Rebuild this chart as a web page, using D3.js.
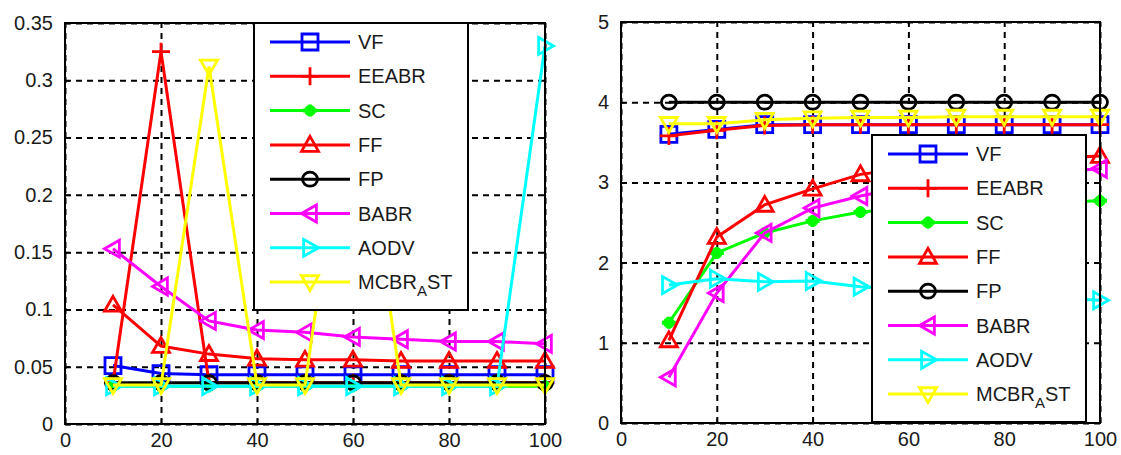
<!DOCTYPE html>
<html lang="en">
<head>
<meta charset="utf-8">
<title>Two panels</title>
<script src="https://d3js.org/d3.v7.min.js"></script>
<style>
  body { margin: 0; background: #fff; }
  text { font-family: "Liberation Sans", Arial, sans-serif; fill: #1a1a1a; }
</style>
</head>
<body>
<script>
// x values shared by both panels
var xVals = [10, 20, 30, 40, 50, 60, 70, 80, 90, 100];
var xTicks = [0, 20, 40, 60, 80, 100];

var seriesNames = ["VF", "EEABR", "SC", "FF", "FP", "BABR", "AODV", "MCBR_AST"];
var seriesColors = ["#0000ff", "#ff0000", "#00ff00", "#ff0000", "#000000", "#ff00ff", "#00ffff", "#ffff00"];
var seriesMarkers = ["square", "plus", "star", "triUp", "circle", "triLeft", "triRight", "triDown"];

// left panel values
var leftVF    = [0.051, 0.044, 0.043, 0.043, 0.043, 0.043, 0.043, 0.043, 0.043, 0.043];
var leftEEABR = [0.036, 0.325, 0.036, 0.036, 0.036, 0.036, 0.036, 0.036, 0.036, 0.036];
var leftSC    = [0.033, 0.033, 0.033, 0.033, 0.033, 0.033, 0.033, 0.033, 0.033, 0.033];
var leftFF    = [0.104, 0.068, 0.061, 0.057, 0.056, 0.056, 0.055, 0.055, 0.055, 0.055];
var leftFP    = [0.036, 0.036, 0.036, 0.036, 0.036, 0.036, 0.036, 0.036, 0.036, 0.036];
var leftBABR  = [0.153, 0.120, 0.090, 0.082, 0.080, 0.076, 0.074, 0.072, 0.072, 0.070];
var leftAODV  = [0.033, 0.033, 0.033, 0.033, 0.033, 0.033, 0.033, 0.033, 0.033, 0.330];
var leftMCBR  = [0.034, 0.034, 0.312, 0.034, 0.034, 0.325, 0.034, 0.034, 0.034, 0.034];
var leftYTicks = [0, 0.05, 0.1, 0.15, 0.2, 0.25, 0.3, 0.35];

// right panel values
var rightVF    = [3.60, 3.66, 3.72, 3.72, 3.72, 3.72, 3.72, 3.72, 3.72, 3.72];
var rightEEABR = [3.58, 3.65, 3.71, 3.72, 3.72, 3.72, 3.72, 3.72, 3.72, 3.72];
var rightSC    = [1.25, 2.12, 2.37, 2.52, 2.63, 2.68, 2.71, 2.73, 2.75, 2.77];
var rightFF    = [1.03, 2.32, 2.72, 2.92, 3.10, 3.18, 3.23, 3.27, 3.30, 3.33];
var rightFP    = [4.00, 4.00, 4.00, 4.00, 4.00, 4.00, 4.00, 4.00, 4.00, 4.00];
var rightBABR  = [0.57, 1.62, 2.37, 2.68, 2.83, 2.95, 3.03, 3.09, 3.13, 3.17];
var rightAODV  = [1.72, 1.80, 1.76, 1.77, 1.70, 1.66, 1.62, 1.59, 1.56, 1.53];
var rightMCBR  = [3.73, 3.73, 3.78, 3.80, 3.81, 3.81, 3.82, 3.82, 3.82, 3.82];
var rightYTicks = [0, 1, 2, 3, 4, 5];

var svg = d3.select("body").append("svg")
  .attr("width", 1121)
  .attr("height", 455);

// marker shapes, all hollow except the star
function markerPath(kind) {
  var s = 8.5;
  switch (kind) {
    case "square": return "M-8,-8H8V8H-8Z";
    case "plus": return "M-9,0H9M0,-9V9";
    case "star": return "M-7,0H7M0,-6V6M-4,-4L4,4M-4,4L4,-4";
    case "circle": return "M-7.5,0A7.5,7 0 1,0 7.5,0A7.5,7 0 1,0 -7.5,0Z";
    case "triUp": return "M0,-" + s + "L" + s + "," + (s * 0.75) + "L-" + s + "," + (s * 0.75) + "Z";
    case "triDown": return "M0," + s + "L" + s + ",-" + (s * 0.75) + "L-" + s + ",-" + (s * 0.75) + "Z";
    case "triLeft": return "M-" + s + ",0L" + (s * 0.75) + ",-" + s + "L" + (s * 0.75) + "," + s + "Z";
    case "triRight": return "M" + s + ",0L-" + (s * 0.75) + ",-" + s + "L-" + (s * 0.75) + "," + s + "Z";
  }
}

function drawMarker(g, kind, color, x, y) {
  g.append("path")
    .attr("d", markerPath(kind))
    .attr("transform", "translate(" + x + "," + y + ")")
    .attr("fill", "none")
    .attr("stroke", color)
    .attr("stroke-width", kind == "star" ? 4 : 2.8);
}

function drawPanel(opts) {
  var x = d3.scaleLinear().domain([0, 100]).range([opts.left, opts.right]);
  var y = d3.scaleLinear().domain(opts.yDomain).range([opts.bottom, opts.top]);
  var g = svg.append("g");

  // dashed grid
  g.append("g")
    .attr("transform", "translate(0," + opts.bottom + ")")
    .call(d3.axisBottom(x).tickValues(xTicks).tickSize(-(opts.bottom - opts.top)).tickFormat(""))
    .call(a => a.select(".domain").remove())
    .selectAll("line")
    .attr("stroke", "#000").attr("stroke-width", 2).attr("stroke-dasharray", "6,5");
  g.append("g")
    .attr("transform", "translate(" + opts.left + ",0)")
    .call(d3.axisLeft(y).tickValues(opts.yTicks).tickSize(-(opts.right - opts.left)).tickFormat(""))
    .call(a => a.select(".domain").remove())
    .selectAll("line")
    .attr("stroke", "#000").attr("stroke-width", 2).attr("stroke-dasharray", "6,5");

  // tick labels
  var xAxis = g.append("g")
    .attr("transform", "translate(0," + opts.bottom + ")")
    .call(d3.axisBottom(x).tickValues(xTicks).tickSize(-5).tickPadding(9));
  var yAxis = g.append("g")
    .attr("transform", "translate(" + opts.left + ",0)")
    .call(d3.axisLeft(y).tickValues(opts.yTicks).tickSize(-5).tickPadding(12).tickFormat(opts.yFormat));
  [xAxis, yAxis].forEach(function (a) {
    a.select(".domain").remove();
    a.selectAll("line").attr("stroke", "#000").attr("stroke-width", 1.5);
    a.selectAll("text").attr("font-size", 20).attr("font-family", "Liberation Sans, Arial, sans-serif").attr("fill", "#1a1a1a");
  });

  // series
  var line = d3.line().x((d, i) => x(xVals[i])).y(d => y(d));
  opts.series.forEach(function (vals, k) {
    g.append("path")
      .datum(vals)
      .attr("d", line)
      .attr("fill", "none")
      .attr("stroke", seriesColors[k])
      .attr("stroke-width", 3);
    vals.forEach(function (v, i) {
      drawMarker(g, seriesMarkers[k], seriesColors[k], x(xVals[i]), y(v));
    });
  });

  // axes box
  g.append("rect")
    .attr("x", opts.left).attr("y", opts.top)
    .attr("width", opts.right - opts.left).attr("height", opts.bottom - opts.top)
    .attr("fill", "none").attr("stroke", "#000").attr("stroke-width", 2);

  // legend
  var lg = g.append("g");
  lg.append("rect")
    .attr("x", opts.legend.x).attr("y", opts.legend.y)
    .attr("width", 214).attr("height", 287)
    .attr("fill", "#fff").attr("stroke", "#000").attr("stroke-width", 2);
  seriesNames.forEach(function (name, k) {
    var ly = opts.legend.y + 19 + k * 34.3;
    var lx = opts.legend.x + 16;
    lg.append("line")
      .attr("x1", lx).attr("x2", lx + 80)
      .attr("y1", ly).attr("y2", ly)
      .attr("stroke", seriesColors[k]).attr("stroke-width", 3);
    drawMarker(lg, seriesMarkers[k], seriesColors[k], lx + 40, ly);
    var t = lg.append("text")
      .attr("x", lx + 88).attr("y", ly + 7)
      .attr("font-size", 20);
    if (name == "MCBR_AST") {
      t.append("tspan").text("MCBR");
      t.append("tspan").attr("dy", 7).attr("font-size", 15).text("A");
      t.append("tspan").attr("dy", -7).text("ST");
    } else {
      t.text(name);
    }
  });
}

drawPanel({
  left: 65, right: 545, top: 23, bottom: 424,
  yDomain: [0, 0.35], yTicks: leftYTicks,
  yFormat: d => d == 0 ? "0" : d3.format("")(+d.toFixed(2)),
  series: [leftVF, leftEEABR, leftSC, leftFF, leftFP, leftBABR, leftAODV, leftMCBR],
  legend: { x: 254, y: 23 }
});

drawPanel({
  left: 621, right: 1100, top: 22, bottom: 423,
  yDomain: [0, 5], yTicks: rightYTicks,
  yFormat: d3.format("d"),
  series: [rightVF, rightEEABR, rightSC, rightFF, rightFP, rightBABR, rightAODV, rightMCBR],
  legend: { x: 872, y: 135 }
});
</script>
</body>
</html>
